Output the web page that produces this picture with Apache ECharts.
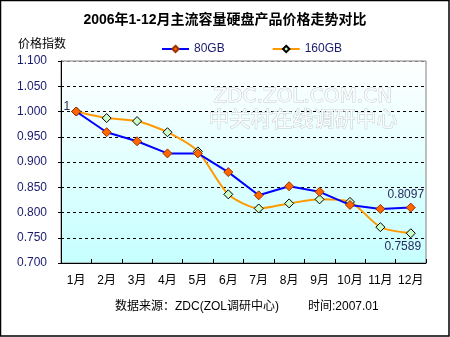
<!DOCTYPE html>
<html><head><meta charset="utf-8">
<script src="https://cdn.jsdelivr.net/npm/echarts@6/dist/echarts.min.js"></script>
<style>html,body{margin:0;padding:0;background:#fff}#c{width:450px;height:337px}</style>
</head><body><div id="c"></div>
<script>
var categories = ['1月','2月','3月','4月','5月','6月','7月','8月','9月','10月','11月','12月'];
var gb80 = [1.000, 0.959, 0.941, 0.917, 0.917, 0.880, 0.834, 0.852, 0.841, 0.815, 0.807, 0.8097];
var gb160 = [1.000, 0.987, 0.981, 0.959, 0.921, 0.836, 0.808, 0.818, 0.826, 0.821, 0.771, 0.7589];
var titleText = '2006年1-12月主流容量硬盘产品价格走势对比';
var yName = '价格指数';
var sourceText = '数据来源：ZDC(ZOL调研中心)';
var timeText = '时间:2007.01';
var wm1 = 'ZDC.ZOL.COM.CN';
var wm2 = '中关村在线调研中心';

var FONT = '"Liberation Sans","Noto Sans CJK SC",sans-serif';
var labelColor = '#2b2b5e';

var d80 = gb80.map(function (v, i) {
  var o = { value: v };
  if (i === gb80.length - 1) {
    o.label = { show: true, position: 'top', distance: 4, offset: [-5, 2], formatter: '0.8097', color: labelColor, fontSize: 12, fontFamily: FONT };
  }
  return o;
});
var d160 = gb160.map(function (v, i) {
  var o = { value: v };
  if (i === 0) {
    o.label = { show: true, position: 'left', distance: 1, offset: [0, -5], formatter: '1', color: labelColor, fontSize: 12, fontFamily: FONT };
  }
  if (i === gb160.length - 1) {
    o.label = { show: true, position: 'bottom', distance: 4, offset: [-8, -2], formatter: '0.7589', color: labelColor, fontSize: 12, fontFamily: FONT };
  }
  return o;
});

var gridColors = ['#000', '#000', '#000', '#000', '#000', '#000', '#000', '#000', '#808080'];

var chart = echarts.init(document.getElementById('c'), null, { renderer: 'canvas' });
chart.setOption({
  animation: false,
  backgroundColor: '#ffffff',
  title: {
    text: titleText, left: 'center', top: 8,
    textStyle: { fontSize: 14, fontWeight: 'bold', color: '#000', fontFamily: FONT }
  },
  legend: {
    left: 156, top: 38, itemWidth: 27, itemHeight: 8, itemGap: 47,
    textStyle: { fontSize: 12, color: '#1a1a6e', fontFamily: FONT },
    data: ['80GB', '160GB']
  },
  grid: {
    left: 61, right: 24, top: 61, bottom: 74, show: true,
    borderColor: '#808080', borderWidth: 1,
    backgroundColor: { type: 'linear', x: 0, y: 0, x2: 0, y2: 1,
      colorStops: [{ offset: 0, color: '#ffffff' }, { offset: 1, color: '#c6ffff' }] }
  },
  xAxis: {
    type: 'category', data: categories, boundaryGap: true,
    axisLine: { lineStyle: { color: '#000', width: 1 } },
    axisTick: { show: true, inside: true, length: 4, interval: 0, alignWithLabel: false, lineStyle: { color: '#000' } },
    axisLabel: { color: '#000', fontSize: 12, margin: 12, interval: 0, fontFamily: FONT },
    splitLine: { show: false }
  },
  yAxis: {
    type: 'value', min: 0.7, max: 1.1, interval: 0.05,
    name: yName, nameLocation: 'end', nameGap: 10,
    nameTextStyle: { color: '#000', fontSize: 12, align: 'right', padding: [0, -5, 0, 0], fontFamily: FONT },
    axisLine: { show: true, lineStyle: { color: '#000', width: 1 } },
    axisTick: { show: true, length: 3, lineStyle: { color: '#000' } },
    axisLabel: { color: '#1a1a6e', fontSize: 12, margin: 14, fontFamily: FONT,
      formatter: function (v) { return v.toFixed(3); } },
    splitLine: { show: true, lineStyle: { color: gridColors, type: [3, 3], width: 1 } }
  },
  graphic: [
    { type: 'text', left: 213, top: 86, z: 1, silent: true,
      style: { text: wm1, font: '20px "DejaVu Sans", sans-serif', fill: '#fafdfd', stroke: '#c4cccc', lineWidth: 1 } },
    { type: 'text', left: 208, top: 107, z: 1, silent: true,
      style: { text: wm2, font: '21px "Noto Sans CJK SC", sans-serif', fill: '#fafdfd', stroke: '#c4cccc', lineWidth: 1 } },
    { type: 'text', left: 115, top: 301, style: { text: sourceText, font: '12px ' + FONT, fill: '#000' } },
    { type: 'text', left: 308, top: 301, style: { text: timeText, font: '12px ' + FONT, fill: '#000' } },
    { type: 'rect', z: 100, silent: true, shape: { x: 0.5, y: 0.5, width: 448.5, height: 335.5 },
      style: { fill: 'none', stroke: '#000', lineWidth: 1.5 } }
  ],
  series: [
    {
      name: '80GB', type: 'line', data: d80, z: 3,
      symbol: 'diamond', symbolSize: 9,
      lineStyle: { color: '#0000ff', width: 2 },
      itemStyle: { color: '#ff6600', borderColor: '#993300', borderWidth: 1 },
      emphasis: { disabled: true }
    },
    {
      name: '160GB', type: 'line', data: d160, z: 2, smooth: 0.25,
      symbol: 'diamond', symbolSize: 9,
      lineStyle: { color: '#ff9900', width: 2 },
      itemStyle: { color: '#ccffcc', borderColor: '#000000', borderWidth: 1 },
      emphasis: { disabled: true }
    }
  ]
});
</script>
</body></html>
